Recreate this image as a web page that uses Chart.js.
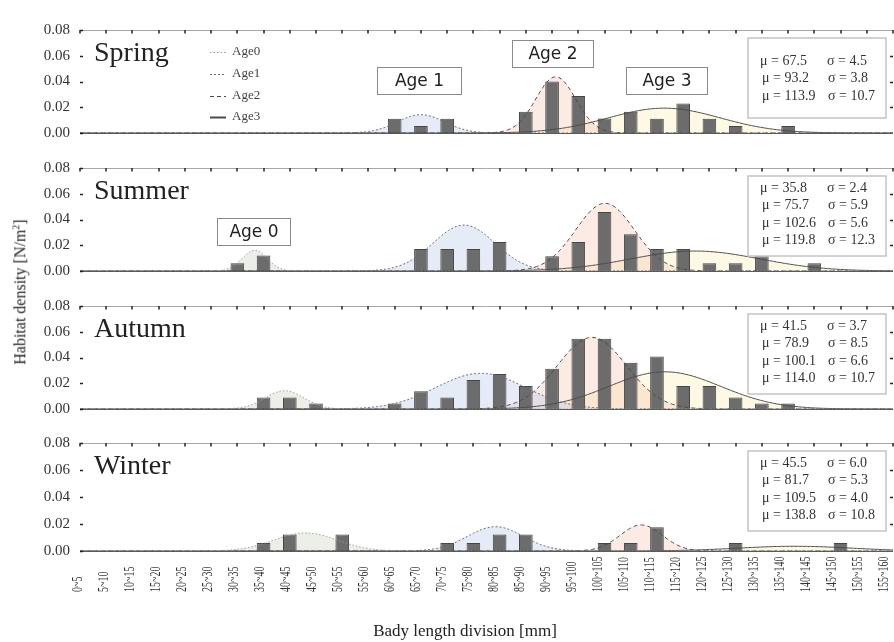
<!DOCTYPE html>
<html>
<head>
<meta charset="utf-8">
<script src="https://cdn.jsdelivr.net/npm/chart.js@4.4.1/dist/chart.umd.min.js"></script>
<style>
  html, body { margin: 0; padding: 0; background: #fff; }
  #fig { position: relative; width: 894px; height: 642px; overflow: hidden; background: #fff; }
  #fig canvas { position: absolute; left: 0; }
  .ytitle { position: absolute; left: 20px; top: 292px; transform: translate(-50%, -50%) rotate(-90deg);
            font: 16px "Liberation Serif", "Times New Roman", serif; color: #222; white-space: nowrap; }
  .ytitle sup { font-size: 10px; }
  .xtitle { position: absolute; left: 465px; top: 622px; transform: translateX(-50%);
            font: 17px "Liberation Serif", "Times New Roman", serif; color: #222; white-space: nowrap; line-height: 17px; }
</style>
</head>
<body>
<div id="fig">
  <canvas id="pSpring"></canvas>
  <canvas id="pSummer"></canvas>
  <canvas id="pAutumn"></canvas>
  <canvas id="pWinter"></canvas>
  <div class="ytitle">Habitat density [N/m<sup>2</sup>]</div>
  <div class="xtitle">Bady length division [mm]</div>
</div>
<script>
// Body length classes (5 mm bins)
const categories = ['0~5','5~10','10~15','15~20','20~25','25~30','30~35','35~40','40~45','45~50',
  '50~55','55~60','60~65','65~70','70~75','75~80','80~85','85~90','90~95','95~100',
  '100~105','105~110','110~115','115~120','120~125','125~130','130~135','135~140','140~145','145~150',
  '150~155','155~160'];
const yTicks = [0, 0.02, 0.04, 0.06, 0.08];

// Observed habitat density per length class
const springBars = [0,0,0,0,0,0,0,0,0,0,0,0,0.011,0.0055,0.011,0,0,0.0165,0.040,0.0287,0.0113,0.0165,0.011,0.0229,0.011,0.0055,0,0.0055,0,0,0,0];
const summerBars = [0,0,0,0,0,0,0.006,0.012,0,0,0,0,0,0.017,0.017,0.017,0.0226,0,0.0114,0.0226,0.0459,0.0286,0.017,0.017,0.006,0.006,0.0114,0,0.006,0,0,0];
const autumnBars = [0,0,0,0,0,0,0,0.009,0.009,0.0043,0,0,0.0043,0.0137,0.009,0.0225,0.0272,0.0178,0.0313,0.0545,0.0545,0.036,0.0407,0.0178,0.0178,0.009,0.0043,0.0043,0,0,0,0];
const winterBars = [0,0,0,0,0,0,0,0.006,0.0122,0,0.0122,0,0,0,0.006,0.006,0.0122,0.0122,0,0,0.006,0.006,0.0176,0,0,0.006,0,0,0,0.006,0,0];

// Fitted normal components per age class: mean, s.d. and peak density
const springAges = [1, 2, 3];
const springMu = [67.5, 93.2, 113.9];
const springSigma = [4.5, 3.8, 10.7];
const springPeak = [0.0142, 0.0436, 0.0193];

const summerAges = [0, 1, 2, 3];
const summerMu = [35.8, 75.7, 102.6, 119.8];
const summerSigma = [2.4, 5.9, 5.6, 12.3];
const summerPeak = [0.016, 0.0357, 0.0526, 0.0155];

const autumnAges = [0, 1, 2, 3];
const autumnMu = [41.5, 78.9, 100.1, 114.0];
const autumnSigma = [3.7, 8.5, 6.6, 10.7];
const autumnPeak = [0.0142, 0.0277, 0.0556, 0.0289];

const winterAges = [0, 1, 2, 3];
const winterMu = [45.5, 81.7, 109.5, 138.8];
const winterSigma = [6.0, 5.3, 4.0, 10.8];
const winterPeak = [0.0134, 0.018, 0.0193, 0.0035];

const legendLabels = ['Age0', 'Age1', 'Age2', 'Age3'];

// ---- styling ----
const SERIF = '"Liberation Serif", "Times New Roman", serif';
const SANS = '"DejaVu Sans", "Liberation Sans", sans-serif';
const binMid = categories.map((_, i) => 2.5 + 5 * i);

const ageStyle = {
  0: { dash: [1.5, 2], color: '#9a9a9a', fill: 'rgba(205,215,195,0.40)' },
  1: { dash: [2, 2],   color: '#6a6a6a', fill: 'rgba(185,200,235,0.36)' },
  2: { dash: [4, 3],   color: '#4a4a4a', fill: 'rgba(245,190,170,0.32)' },
  3: { dash: [],       color: '#4a4a4a', fill: 'rgba(250,240,185,0.38)' }
};

function normalCurve(mu, sigma, peak) {
  const pts = [];
  for (let x = binMid[0]; x <= binMid[binMid.length - 1] + 1e-9; x += 0.25) {
    const z = (x - mu) / sigma;
    pts.push({ x, y: peak * Math.exp(-0.5 * z * z) });
  }
  return pts;
}

const panelTops = [25, 163, 301, 438];
const panelH = 113;
const padT = 14, padB = 14;

const panelDecor = {
  id: 'panelDecor',
  afterDatasetsDraw(chart, args, o) {
    const { ctx, chartArea: a, scales: { x, y } } = chart;
    ctx.save();
    // frame
    ctx.lineWidth = 1;
    ctx.strokeStyle = '#a8a8a8';
    ctx.beginPath(); ctx.moveTo(a.left, a.top + 0.5); ctx.lineTo(a.right, a.top + 0.5); ctx.stroke();
    ctx.strokeStyle = '#5a5a5a';
    ctx.beginPath(); ctx.moveTo(a.left, a.bottom + 0.5); ctx.lineTo(a.right, a.bottom + 0.5); ctx.stroke();
    // tick marks along the top
    ctx.strokeStyle = '#222'; ctx.lineWidth = 1.5;
    ctx.beginPath();
    binMid.forEach(v => { const px = Math.round(x.getPixelForValue(v)); ctx.moveTo(px, a.top); ctx.lineTo(px, a.top + 3.5); });
    // tick marks left / right
    yTicks.forEach(t => {
      const py = Math.round(y.getPixelForValue(t)) + 0.5;
      ctx.moveTo(a.left, py); ctx.lineTo(a.left + 3, py);
      if (t > 0 && t < 0.08) { ctx.moveTo(a.right - 3, py); ctx.lineTo(a.right, py); }
    });
    ctx.stroke();

    // season name
    ctx.fillStyle = '#222';
    ctx.font = '28px ' + SERIF;
    ctx.textAlign = 'left'; ctx.textBaseline = 'alphabetic';
    ctx.fillText(o.season, 94, a.top + 31);

    // parameter box
    const bx = 748, bw = 138, by = a.top + 8, bh = 80;
    ctx.fillStyle = '#fff';
    ctx.fillRect(bx, by, bw, bh);
    ctx.strokeStyle = '#c4c4c4'; ctx.lineWidth = 1.5;
    ctx.strokeRect(bx, by, bw, bh);
    ctx.fillStyle = '#333';
    ctx.font = '14px ' + SERIF;
    ctx.textBaseline = 'middle';
    const n = o.mu.length;
    const startY = n === 3 ? by + 23 : by + 12;
    o.mu.forEach((m, i) => {
      const ly = startY + i * 17.6;
      ctx.fillText('\u03bc = ' + m.toFixed(1), bx + 12 + (i ? 2 : 0), ly);
      ctx.fillText('\u03c3 = ' + o.sigma[i].toFixed(1), bx + 79 + (i ? 1 : 0), ly);
    });

    // age annotation boxes
    (o.ageBoxes || []).forEach(b => {
      const top = a.top + b.dy;
      ctx.fillStyle = '#fff';
      ctx.fillRect(b.x, top, b.w, 27);
      ctx.strokeStyle = '#8a8a8a'; ctx.lineWidth = 1;
      ctx.strokeRect(b.x + 0.5, top + 0.5, b.w, 27);
      ctx.fillStyle = '#222';
      ctx.font = '17px ' + SANS;
      ctx.textAlign = 'center'; ctx.textBaseline = 'middle';
      ctx.fillText(b.text, b.x + b.w / 2 + 0.5, top + 14.5);
    });

    // line-style legend
    if (o.legend) {
      ctx.textAlign = 'left'; ctx.textBaseline = 'middle';
      ctx.font = '13px ' + SERIF;
      const rows = [22, 44, 66, 87];
      legendLabels.forEach((lab, i) => {
        const st = ageStyle[i];
        const ly = a.top + rows[i];
        ctx.strokeStyle = st.color;
        ctx.lineWidth = i === 3 ? 2 : 1;
        ctx.setLineDash(st.dash);
        ctx.beginPath(); ctx.moveTo(210, ly + 0.5); ctx.lineTo(226, ly + 0.5); ctx.stroke();
        ctx.setLineDash([]);
        ctx.fillStyle = '#444';
        ctx.fillText(lab, 232, ly);
      });
    }

    // length-class labels under the last panel (slightly tighter pitch than the ticks)
    if (o.xLabels) {
      ctx.fillStyle = '#333';
      ctx.font = '10px ' + SERIF;
      ctx.textAlign = 'left'; ctx.textBaseline = 'middle';
      const baseY = a.bottom + 41;
      const x0 = x.getPixelForValue(binMid[0]);
      categories.forEach((lab, i) => {
        const px = x0 + (x.getPixelForValue(binMid[i]) - x0) * 0.992 - 2;
        ctx.save();
        ctx.translate(px, baseY);
        ctx.rotate(-Math.PI / 2);
        ctx.scale(1, 1.5);
        ctx.fillText(lab, 0, 0);
        ctx.restore();
      });
    }
    ctx.restore();
  }
};

function makePanel(idx, canvasId, bars, ages, mu, sigma, peak, extra) {
  const cv = document.getElementById(canvasId);
  const isLast = idx === 3;
  const h = padT + panelH + (isLast ? 642 - (panelTops[idx] + panelH) : padB);
  cv.width = 894; cv.height = h;
  cv.style.top = (panelTops[idx] - padT) + 'px';
  cv.style.width = '894px'; cv.style.height = h + 'px';

  const datasets = [{
    type: 'bar',
    data: binMid.map((x, i) => ({ x, y: bars[i] })),
    backgroundColor: '#6c6c6c',
    borderColor: '#464646',
    borderWidth: 1,
    borderSkipped: 'bottom',
    categoryPercentage: 1,
    barPercentage: 0.52,
    order: 2
  }];
  ages.forEach((age, i) => {
    const st = ageStyle[age];
    datasets.push({
      type: 'line',
      data: normalCurve(mu[i], sigma[i], peak[i]),
      borderColor: st.color,
      borderWidth: 1,
      borderDash: st.dash,
      backgroundColor: st.fill,
      fill: 'origin',
      pointRadius: 0,
      tension: 0,
      order: 1
    });
  });

  return new Chart(cv, {
    data: { datasets },
    options: {
      responsive: false,
      animation: false,
      devicePixelRatio: 1,
      layout: { padding: { top: padT, bottom: h - padT - panelH, left: 0, right: 1 } },
      plugins: {
        legend: { display: false },
        tooltip: { enabled: false },
        filler: { drawTime: 'beforeDatasetsDraw' },
        panelDecor: Object.assign({ mu, sigma }, extra)
      },
      scales: {
        x: { type: 'linear', offset: false, min: binMid[0], max: binMid[binMid.length - 1], display: false },
        y: {
          min: 0, max: 0.08,
          afterBuildTicks: s => { s.ticks = yTicks.map(v => ({ value: v })); },
          afterFit: s => { s.width = 80; },
          grid: { display: false, drawTicks: false },
          border: { display: false },
          ticks: {
            padding: 10,
            color: '#333',
            font: { family: SERIF, size: 15 },
            callback: v => Number(v).toFixed(2)
          }
        }
      }
    },
    plugins: [panelDecor]
  });
}

makePanel(0, 'pSpring', springBars, springAges, springMu, springSigma, springPeak, {
  season: 'Spring', legend: true,
  ageBoxes: [
    { text: 'Age 1', x: 377, w: 84, dy: 37 },
    { text: 'Age 2', x: 512, w: 81, dy: 10 },
    { text: 'Age 3', x: 626, w: 81, dy: 37 }
  ]
});
makePanel(1, 'pSummer', summerBars, summerAges, summerMu, summerSigma, summerPeak, {
  season: 'Summer',
  ageBoxes: [{ text: 'Age 0', x: 217, w: 73, dy: 50 }]
});
makePanel(2, 'pAutumn', autumnBars, autumnAges, autumnMu, autumnSigma, autumnPeak, { season: 'Autumn' });
makePanel(3, 'pWinter', winterBars, winterAges, winterMu, winterSigma, winterPeak, { season: 'Winter', xLabels: true });
</script>
</body>
</html>
